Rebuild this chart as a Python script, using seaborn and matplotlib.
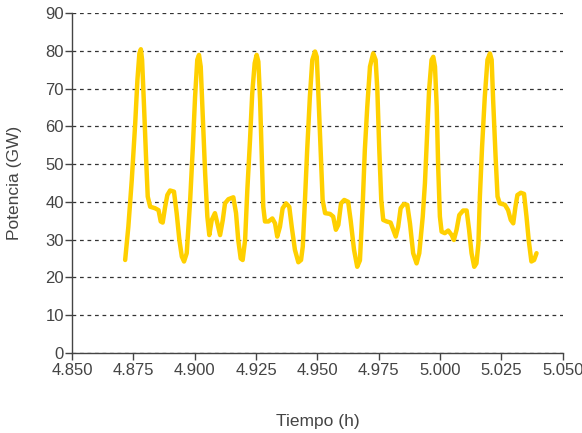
import numpy as np
import pandas as pd
import seaborn as sns
import matplotlib.pyplot as plt
from matplotlib.ticker import FormatStrFormatter

# time (h) and power (GW)
tiempo = [4.8716, 4.8729, 4.8743, 4.8757, 4.8766, 4.8774, 4.8780, 4.8785, 4.8793, 4.8801,
          4.8808, 4.8818, 4.8838, 4.8852, 4.8861, 4.8869, 4.8879, 4.8888, 4.8899, 4.8915,
          4.8926, 4.8937, 4.8947, 4.8956, 4.8967, 4.8981, 4.8992, 4.9001, 4.9010, 4.9017,
          4.9024, 4.9032, 4.9042, 4.9051, 4.9059, 4.9069, 4.9082, 4.9092, 4.9103, 4.9114,
          4.9123, 4.9137, 4.9157, 4.9168, 4.9177, 4.9187, 4.9195, 4.9205, 4.9214, 4.9225,
          4.9234, 4.9244, 4.9252, 4.9259, 4.9266, 4.9273, 4.9279, 4.9286, 4.9300, 4.9316,
          4.9327, 4.9336, 4.9347, 4.9358, 4.9372, 4.9385, 4.9395, 4.9408, 4.9422, 4.9433,
          4.9440, 4.9449, 4.9458, 4.9469, 4.9479, 4.9490, 4.9497, 4.9503, 4.9513, 4.9521,
          4.9531, 4.9551, 4.9564, 4.9575, 4.9585, 4.9596, 4.9609, 4.9625, 4.9635, 4.9649,
          4.9662, 4.9673, 4.9684, 4.9693, 4.9703, 4.9714, 4.9727, 4.9737, 4.9744, 4.9752,
          4.9760, 4.9768, 4.9782, 4.9798, 4.9809, 4.9819, 4.9829, 4.9839, 4.9852, 4.9866,
          4.9877, 4.9890, 4.9904, 4.9915, 4.9929, 4.9938, 4.9947, 4.9955, 4.9965, 4.9972,
          4.9979, 4.9986, 4.9992, 4.9999, 5.0006, 5.0019, 5.0033, 5.0047, 5.0056, 5.0067,
          5.0078, 5.0094, 5.0108, 5.0118, 5.0128, 5.0139, 5.0148, 5.0156, 5.0162, 5.0171,
          5.0182, 5.0193, 5.0203, 5.0210, 5.0216, 5.0226, 5.0234, 5.0243, 5.0264, 5.0277,
          5.0288, 5.0298, 5.0307, 5.0315, 5.0329, 5.0342, 5.0352, 5.0361, 5.0372, 5.0383,
          5.0393]
potencia = [24.6, 33.4, 45.8, 60.8, 72.3, 79.3, 80.4, 77.6, 65.2, 52.0,
            41.4, 38.7, 38.3, 37.8, 34.8, 34.5, 38.7, 41.8, 43.0, 42.7,
            37.0, 29.9, 25.5, 24.2, 26.4, 40.5, 54.6, 67.8, 77.6, 78.9,
            75.8, 63.4, 47.6, 36.1, 31.2, 35.2, 37.0, 34.3, 31.2, 35.2,
            39.6, 40.7, 41.2, 37.0, 29.9, 25.0, 24.6, 29.9, 43.1, 56.4,
            68.7, 76.7, 78.9, 77.1, 67.0, 52.0, 38.7, 34.8, 34.8, 35.6,
            34.3, 30.8, 33.4, 38.3, 39.6, 38.7, 33.4, 27.3, 24.0, 24.6,
            28.1, 40.5, 53.7, 67.8, 77.6, 79.8, 78.4, 69.6, 53.7, 40.5,
            37.0, 36.8, 36.1, 32.6, 33.9, 39.6, 40.5, 40.0, 35.2, 27.3,
            22.8, 24.5, 38.7, 53.7, 65.2, 75.8, 79.3, 77.6, 69.6, 53.7,
            40.5, 35.2, 34.8, 34.5, 32.6, 30.8, 33.4, 38.3, 39.4, 39.2,
            34.3, 26.4, 23.7, 26.4, 36.0, 44.9, 58.2, 69.6, 77.6, 78.4,
            75.8, 65.2, 49.3, 36.1, 32.1, 31.7, 32.4, 31.2, 29.9, 32.6,
            36.5, 37.7, 37.7, 32.6, 26.4, 22.8, 23.7, 29.0, 41.4, 54.6,
            67.8, 77.6, 79.3, 77.6, 67.0, 52.0, 41.4, 39.6, 39.2, 37.8,
            35.2, 34.3, 38.7, 41.8, 42.4, 42.1, 36.1, 29.9, 24.2, 24.6,
            26.4]

df = pd.DataFrame({'Tiempo': tiempo, 'Potencia': potencia})

sns.set_style('white')
plt.rcParams['font.family'] = ['Liberation Sans', 'DejaVu Sans']

fig = plt.figure(figsize=(5.82, 4.33), dpi=100)
ax = fig.add_axes([0.124, 0.185, 0.843, 0.785])

ax.set_axisbelow(True)
ax.yaxis.grid(True, linestyle=(0, (3, 3)), color='#333333', linewidth=0.9)

sns.lineplot(data=df, x='Tiempo', y='Potencia', color='#FFD000', linewidth=3.2,
             sort=False, ax=ax, solid_joinstyle='round', solid_capstyle='round')

ax.set(xlim=(4.85, 5.05), ylim=(0, 90))
ax.set_xticks(np.arange(4.85, 5.0501, 0.025))
ax.set_yticks(np.arange(0, 91, 10))
ax.xaxis.set_major_formatter(FormatStrFormatter('%.3f'))

for s in ['top', 'right']:
    ax.spines[s].set_visible(False)
for s in ['left', 'bottom']:
    ax.spines[s].set_color('#444444')
    ax.spines[s].set_linewidth(1.0)

ax.tick_params(axis='both', direction='out', length=5, width=1, color='#444444',
               labelcolor='#444444', labelsize=12, left=True, bottom=True)
ax.tick_params(axis='x', pad=2)
ax.tick_params(axis='y', pad=1)

ax.set_xlabel('Tiempo (h)', fontsize=12.5, color='#444444', labelpad=26)
ax.set_ylabel('Potencia (GW)', fontsize=12.5, color='#444444', labelpad=17)

fig.savefig('out.png', dpi=100)
